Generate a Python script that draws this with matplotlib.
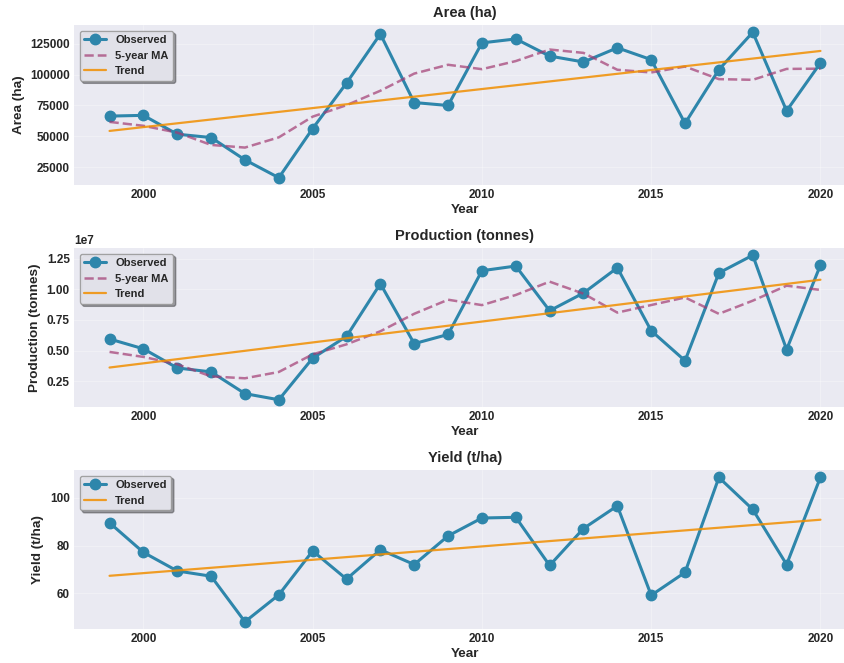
import numpy as np
import pandas as pd
import matplotlib
matplotlib.use("Agg")
import matplotlib.pyplot as plt

plt.style.use("seaborn-v0_8-darkgrid")
plt.rcParams['font.family'] = ['Liberation Sans', 'DejaVu Sans']
plt.rcParams['font.weight'] = 'bold'

# Yearly series
years = np.arange(1999, 2021)
area = [66400, 67000, 51700, 49000, 30900, 16400, 56300, 93200, 133000, 77400, 75000,
        125800, 129000, 115100, 110300, 121800, 112200, 60500, 104100, 134400, 70700, 109500]
production = [0.595e7, 0.515e7, 0.359e7, 0.327e7, 0.150e7, 0.100e7, 0.439e7, 0.616e7,
              1.045e7, 0.557e7, 0.632e7, 1.151e7, 1.189e7, 0.825e7, 0.969e7, 1.175e7,
              0.662e7, 0.418e7, 1.133e7, 1.277e7, 0.509e7, 1.197e7]
yield_tha = [89.6, 77.2, 69.4, 67.2, 48.1, 59.4, 77.8, 66.0, 78.3, 72.1, 84.1,
             91.6, 91.9, 71.7, 87.2, 96.7, 59.2, 68.8, 108.6, 95.2, 72.1, 108.7]

panels = [
    ("Area (ha)", "Area (ha)", area, True),
    ("Production (tonnes)", "Production (tonnes)", production, True),
    ("Yield (t/ha)", "Yield (t/ha)", yield_tha, False),
]

c_obs = '#2E86AB'
c_ma = '#A23B72'
c_trend = '#F18F01'

fig = plt.figure(figsize=(8.45, 6.63), dpi=100)
W, H = 845, 663
# axes boxes in pixels: (top, bottom)
boxes = [(25, 185), (248, 407), (470, 629)]

for (title, ylabel, vals, show_ma), (top, bot) in zip(panels, boxes):
    ax = fig.add_axes([74 / W, 1 - bot / H, 782 / W, (bot - top) / H])
    vals = np.asarray(vals, dtype=float)

    ax.plot(years, vals, marker='o', color=c_obs, lw=2.2, markersize=7.5, label='Observed')
    if show_ma:
        ma = pd.Series(vals).rolling(5, center=True, min_periods=1).mean()
        ax.plot(years, ma, '--', color=c_ma, lw=1.8, alpha=0.7, label='5-year MA')
    coef = np.polyfit(years, vals, 1)
    ax.plot(years, np.polyval(coef, years), color=c_trend, lw=1.6, alpha=0.85, label='Trend')

    ax.set_title(title, fontsize=10.5, fontweight='bold', pad=6)
    ax.set_xlabel('Year', fontsize=9.7, fontweight='bold', labelpad=2)
    ax.set_ylabel(ylabel, fontsize=9.7, fontweight='bold')
    ax.tick_params(labelsize=8.5, pad=3)
    for lab in ax.get_xticklabels() + ax.get_yticklabels():
        lab.set_fontweight('bold')
    ax.yaxis.get_offset_text().set_fontsize(8.5)
    ax.yaxis.get_offset_text().set_fontweight('bold')
    ax.grid(True, alpha=0.3)
    ax.legend(loc='upper left', fontsize=8, frameon=True, shadow=True, fancybox=True,
              framealpha=0.9, edgecolor='#999999', prop={'weight': 'bold', 'size': 8})

fig.savefig('out.png', dpi=100)
